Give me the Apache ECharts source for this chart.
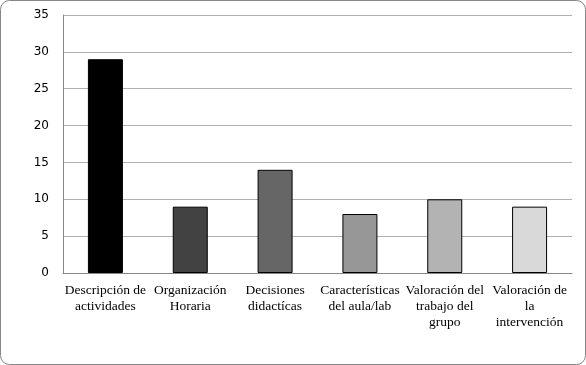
<!DOCTYPE html>
<html><head><meta charset="utf-8">
<script src="https://cdn.jsdelivr.net/npm/echarts@6/dist/echarts.min.js"></script>
<style>html,body{margin:0;padding:0;background:#fff}#c{width:586px;height:365px}</style>
</head><body><div id="c"></div>
<script>
var categories = ['Descripción de\nactividades','Organización\nHoraria','Decisiones\ndidactícas','Características\ndel aula/lab','Valoración del\ntrabajo del\ngrupo','Valoración de\nla\nintervención'];
var values = [29, 9, 14, 8, 10, 9];
var barColors = ['#000000','#424242','#666666','#979797','#b3b3b3','#d9d9d9'];
var yTicks = [0,5,10,15,20,25,30,35];

var chart = echarts.init(document.getElementById('c'), null, {renderer:'canvas'});
chart.setOption({
  animation:false,
  backgroundColor:'#fff',
  graphic:[{type:'rect',shape:{x:0.5,y:0.5,width:585,height:364,r:9},style:{fill:'none',stroke:'#868686',lineWidth:1},silent:true}],
  grid:{left:63,right:14,top:15,bottom:92},
  xAxis:{type:'category',data:categories,
    axisLine:{lineStyle:{color:'#868686'}},axisTick:{show:false},
    axisLabel:{interval:0,margin:9,color:'#000',fontFamily:'Liberation Serif',fontSize:13.5,lineHeight:16}},
  yAxis:{type:'value',min:0,max:35,interval:5,
    axisLine:{show:true,lineStyle:{color:'#868686'}},axisTick:{show:false},
    splitLine:{lineStyle:{color:'#b0b0b0'}},
    axisLabel:{margin:14,color:'#000',fontFamily:'DejaVu Sans',fontSize:12,
      formatter:function(v){return yTicks.indexOf(v)>=0?String(v):'';}}},
  series:[{type:'bar',barWidth:35,
    data:values.map(function(v,i){return {value:v,itemStyle:{color:barColors[i]}};}),
    itemStyle:{borderColor:'#000',borderWidth:1}}]
});
</script></body></html>
